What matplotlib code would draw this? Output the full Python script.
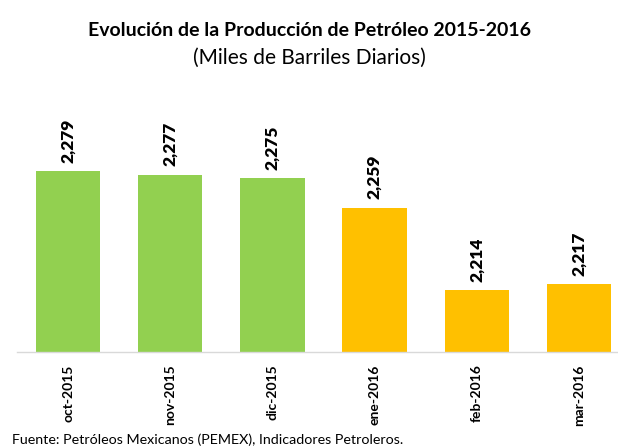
import matplotlib
matplotlib.use("Agg")
import matplotlib.pyplot as plt

months = ["oct-2015", "nov-2015", "dic-2015", "ene-2016", "feb-2016", "mar-2016"]
values = [2279, 2277, 2275, 2259, 2214, 2217]
colors = ["#92D050", "#92D050", "#92D050", "#FFC000", "#FFC000", "#FFC000"]
labels = ["2,279", "2,277", "2,275", "2,259", "2,214", "2,217"]

plt.rcParams['font.family'] = ['Lato', 'DejaVu Sans']

W, H = 618, 447
fig = plt.figure(figsize=(W / 100, H / 100), dpi=100)
left, right = 17, 630
top, bottom = 100, 352
ax = fig.add_axes([left / W, 1 - bottom / H, (right - left) / W, (bottom - top) / H])

x = list(range(len(months)))
ax.bar(x, values, width=0.63, color=colors, zorder=2)
ymin = 2180
ax.set_ylim(ymin, ymin + (bottom - top) / 1.828)
ax.set_xlim(-0.5, len(months) - 0.5)

for xi, v, lab in zip(x, values, labels):
    ax.annotate(lab, (xi, v), xytext=(0, 6), textcoords="offset points",
                rotation=90, ha="center", va="bottom", fontsize=12.5, fontweight="heavy")

for s in ["top", "right", "left"]:
    ax.spines[s].set_visible(False)
ax.spines["bottom"].set_color("#D9D9D9")
ax.spines["bottom"].set_linewidth(1.0)
ax.set_yticks([])
ax.set_xticks(x)
ax.set_xticklabels(months, rotation=90, fontsize=10, fontweight="bold", va="top")
ax.tick_params(axis="x", length=0, pad=9)

fig.text(0.5, 1 - 30 / H, "Evolución de la Producción de Petróleo 2015-2016",
         ha="center", va="center", fontsize=14, fontweight="bold")
fig.text(0.5, 1 - 58 / H, "(Miles de Barriles Diarios)",
         ha="center", va="center", fontsize=15)
fig.text(12 / W, 1 - 440 / H, "Fuente: Petróleos Mexicanos (PEMEX), Indicadores Petroleros.",
         ha="left", va="center", fontsize=10.3)

fig.savefig("out.png", dpi=100)
